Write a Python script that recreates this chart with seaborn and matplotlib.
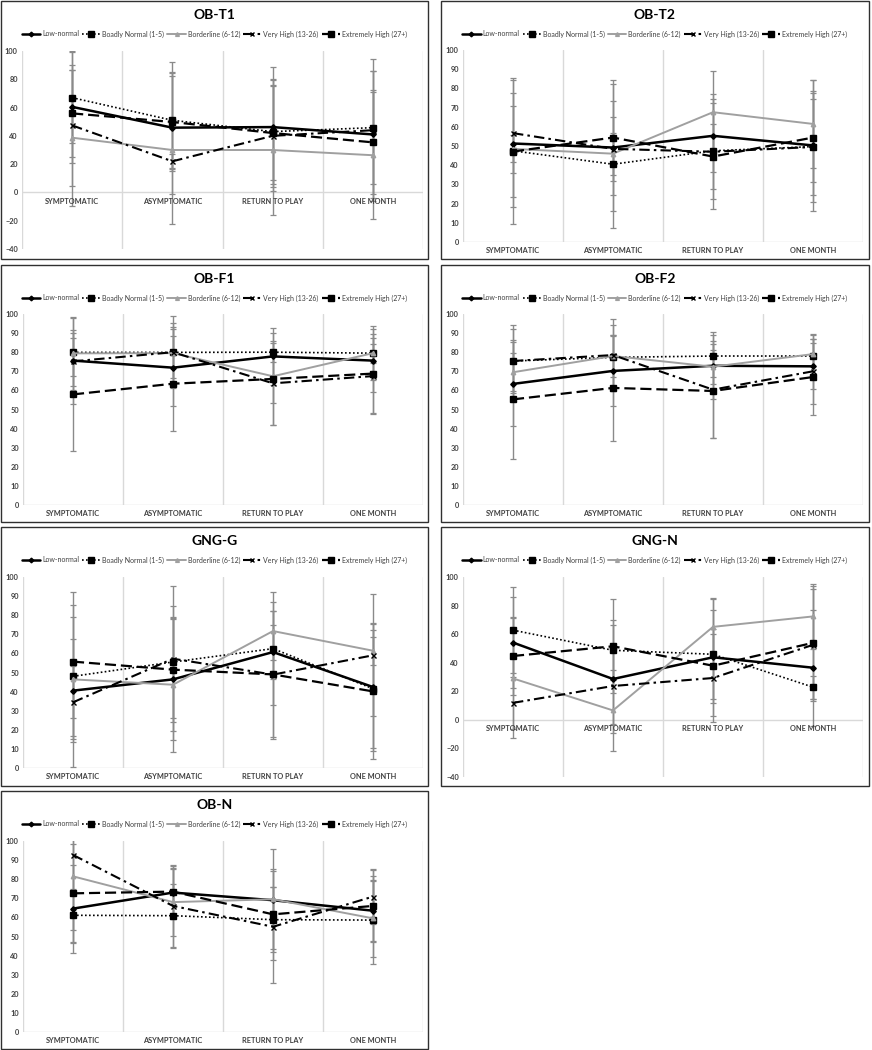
import numpy as np
import pandas as pd
import matplotlib
matplotlib.use("Agg")
import matplotlib.pyplot as plt
import seaborn as sns
from matplotlib.patches import Rectangle
from matplotlib.lines import Line2D

# ---------------- data ----------------
CATEGORIES = ["SYMPTOMATIC", "ASYMPTOMATIC", "RETURN TO PLAY", "ONE MONTH"]
SERIES = ["Low-normal", "Boadly Normal (1-5)", "Borderline (6-12)",
          "Very High (13-26)", "Extremely High (27+)"]
PANELS = ["OB-T1", "OB-T2", "OB-F1", "OB-F2", "GNG-G", "GNG-N", "OB-N"]

# means: one row per series (order as SERIES), one value per category
OBT1_MEAN = [[60.5, 45.8, 46.2, 41.0], [67.0, 51.0, 43.0, 45.8], [38.7, 30.0, 30.0, 26.3],
             [47.4, 22.0, 40.0, 44.0], [55.9, 49.8, 42.0, 35.4]]
OBT1_SD = [[39.5, 46.6, 42.5, 45.0], [32.0, 34.4, 37.0, 40.0], [48.0, 52.0, 45.7, 45.0],
           [42.6, 5.0, 39.3, 50.0], [31.0, 34.8, 33.4, 36.8]]

OBT2_MEAN = [[51.3, 49.2, 55.3, 50.3], [47.5, 40.5, 47.5, 49.7], [48.5, 46.0, 67.6, 61.5],
             [56.7, 48.5, 47.0, 49.5], [47.1, 54.4, 44.5, 54.4]]
OBT2_SD = [[33.0, 33.0, 19.0, 34.0], [38.0, 33.0, 25.0, 29.0], [7.0, 11.0, 21.7, 23.0],
           [21.0, 16.5, 30.0, 25.0], [23.5, 30.0, 17.0, 23.0]]

OBF1_MEAN = [[75.6, 71.9, 77.8, 75.6], [79.9, 79.9, 80.0, 79.5], [79.4, 79.5, 67.4, 79.5],
             [75.2, 80.0, 63.7, 67.5], [57.9, 63.5, 66.0, 68.8]]
OBF1_SD = [[22.8, 20.2, 15.0, 16.4], [17.8, 13.2, 5.0, 5.0], [12.0, 16.0, 14.0, 14.0],
           [15.0, 19.0, 22.0, 20.0], [29.5, 24.9, 24.0, 20.8]]

OBF2_MEAN = [[63.4, 70.2, 72.9, 72.6], [75.4, 77.3, 78.0, 78.0], [69.5, 78.0, 72.4, 79.0],
             [75.4, 78.5, 60.4, 70.0], [55.3, 61.3, 59.7, 67.0]]
OBF2_SD = [[22.0, 18.5, 17.6, 12.0], [18.8, 17.0, 11.0, 11.0], [10.0, 11.0, 9.0, 10.5],
           [16.7, 18.7, 25.5, 17.0], [31.0, 27.8, 24.6, 19.7]]

GNGG_MEAN = [[40.5, 46.4, 60.7, 42.4], [48.0, 55.5, 62.5, 41.5], [46.4, 43.6, 71.7, 61.4],
             [34.4, 57.2, 48.9, 59.0], [55.7, 51.5, 49.0, 40.1]]
GNGG_SD = [[27.0, 31.5, 14.0, 33.7], [31.3, 29.3, 29.6, 31.0], [45.7, 35.0, 15.0, 7.3],
           [19.0, 38.0, 33.5, 31.9], [29.5, 27.5, 33.0, 35.4]]

GNGN_MEAN = [[54.1, 28.6, 43.8, 36.5], [62.8, 48.7, 45.9, 22.9], [29.0, 6.6, 65.1, 72.4],
             [11.9, 23.7, 29.3, 52.5], [44.7, 51.5, 37.9, 53.9]]
GNGN_SD = [[31.8, 38.0, 41.0, 40.5], [30.0, 21.0, 31.0, 8.0], [42.0, 28.4, 20.0, 23.0],
           [18.2, 26.3, 30.5, 39.0], [27.0, 33.0, 26.0, 39.5]]

OBN_MEAN = [[64.6, 73.0, 69.0, 63.5], [61.1, 60.9, 58.8, 58.6], [81.5, 68.0, 69.5, 59.5],
            [92.7, 66.0, 55.1, 70.9], [72.6, 73.5, 61.6, 66.0]]
OBN_SD = [[23.0, 14.0, 7.0, 15.6], [14.0, 16.8, 17.0, 23.2], [28.0, 17.8, 26.3, 20.0],
          [20.0, 21.5, 29.2, 14.3], [26.0, 12.0, 24.0, 18.7]]

PANEL_DATA = {
    "OB-T1": (OBT1_MEAN, OBT1_SD), "OB-T2": (OBT2_MEAN, OBT2_SD),
    "OB-F1": (OBF1_MEAN, OBF1_SD), "OB-F2": (OBF2_MEAN, OBF2_SD),
    "GNG-G": (GNGG_MEAN, GNGG_SD), "GNG-N": (GNGN_MEAN, GNGN_SD),
    "OB-N": (OBN_MEAN, OBN_SD),
}

# ---------------- styling / layout ----------------
sns.set_style("white")
plt.rcParams["font.family"] = ["Lato", "DejaVu Sans"]

W, H = 872, 1050
fig = plt.figure(figsize=(W / 100, H / 100), dpi=100)

# panel box (x0, y0, x1, y1) and plot area (left, right, top, bottom) in pixels, y-range
LAYOUT = {
    "OB-T1": ((1, 1, 428, 259), (22, 423, 51, 249), (-40, 100, 20)),
    "OB-T2": ((441, 1, 869, 259), (463, 863, 50, 242), (0, 100, 10)),
    "OB-F1": ((1, 265, 428, 522), (23, 423, 314, 505), (0, 100, 10)),
    "OB-F2": ((441, 265, 869, 522), (463, 863, 314, 505), (0, 100, 10)),
    "GNG-G": ((1, 527, 428, 786), (23, 423, 577, 768), (0, 100, 10)),
    "GNG-N": ((441, 527, 869, 786), (463, 863, 577, 777), (-40, 100, 20)),
    "OB-N": ((1, 791, 428, 1049), (23, 423, 841, 1032), (0, 100, 10)),
}

STYLES = {
    SERIES[0]: dict(color="black", linewidth=1.8, linestyle="-", marker="D", markersize=2.8),
    SERIES[1]: dict(color="black", linewidth=1.2, linestyle=(0, (1, 1.4)), marker="s", markersize=4.4),
    SERIES[2]: dict(color="#a0a0a0", linewidth=1.4, linestyle="-", marker="^", markersize=3.2),
    SERIES[3]: dict(color="black", linewidth=1.5, linestyle=(0, (5, 2, 1.2, 2)), marker="x", markersize=3.6),
    SERIES[4]: dict(color="black", linewidth=1.6, linestyle=(0, (5, 2.2)), marker="s", markersize=4.4),
}

GRID = "#d9d9d9"
TXT = "#404040"
xpos = np.arange(len(CATEGORIES))

for name in PANELS:
    box, area, (ymin, ymax, ystep) = LAYOUT[name]
    x0, y0, x1, y1 = box
    fig.add_artist(Rectangle((x0 / W, 1 - y1 / H), (x1 - x0) / W, (y1 - y0) / H,
                             transform=fig.transFigure, fill=False,
                             edgecolor="#303030", linewidth=1.0))
    l, r, t, b = area
    ax = fig.add_axes([l / W, 1 - b / H, (r - l) / W, (b - t) / H])

    means, sds = PANEL_DATA[name]
    rows = []
    for s, m_row, sd_row in zip(SERIES, means, sds):
        for c, x, m, sd in zip(CATEGORIES, xpos, m_row, sd_row):
            rows.append(dict(series=s, category=c, pos=x, mean=m, sd=sd))
    df = pd.DataFrame(rows)

    # grid lines
    for edge in np.arange(-0.5, len(CATEGORIES)):
        ax.axvline(edge, color=GRID, linewidth=1.0, zorder=0)
    ax.axhline(0, color=GRID, linewidth=1.0, zorder=0)

    # error bars
    for s in SERIES:
        sub = df[df.series == s]
        ax.errorbar(sub["pos"], sub["mean"], yerr=sub["sd"], fmt="none",
                    ecolor="#8a8a8a", elinewidth=1.0, capsize=2.2, capthick=0.9,
                    zorder=2)

    # lines with markers
    for s in SERIES:
        sub = df[df.series == s]
        st = STYLES[s]
        sns.lineplot(data=sub, x="pos", y="mean", ax=ax, sort=False, legend=False,
                     errorbar=None, color=st["color"], linewidth=st["linewidth"],
                     linestyle=st["linestyle"], marker=st["marker"],
                     markersize=st["markersize"], markeredgecolor=st["color"],
                     markerfacecolor=st["color"], markeredgewidth=1.0, zorder=3)

    ax.set_xlim(-0.5, len(CATEGORIES) - 0.5)
    ax.set_ylim(ymin, ymax)
    ax.set_yticks(np.arange(ymin, ymax + 1, ystep))
    ax.set_xticks([])
    ax.set_xlabel("")
    ax.set_ylabel("")
    ax.tick_params(axis="y", length=0, pad=3, labelsize=5.3, labelcolor=TXT)
    for lab in ax.get_yticklabels():
        lab.set_fontweight("bold")
    for sp in ax.spines.values():
        sp.set_visible(False)
    ax.patch.set_alpha(0)

    for x, c in zip(xpos, CATEGORIES):
        ax.annotate(c, xy=(x, 0), xycoords="data", xytext=(0, -6.2),
                    textcoords="offset points", ha="center", va="center",
                    fontsize=5.3, fontweight="bold", color=TXT, annotation_clip=False)

    cx = (x0 + x1) / 2 / W
    fig.text(cx, 1 - (y0 + 14) / H, name, ha="center", va="center",
             fontsize=10, fontweight="bold", color="black")

    handles = [Line2D([], [], color=STYLES[s]["color"], linewidth=STYLES[s]["linewidth"],
                      linestyle=STYLES[s]["linestyle"], marker=STYLES[s]["marker"],
                      markersize=STYLES[s]["markersize"] * 0.85,
                      markeredgecolor=STYLES[s]["color"],
                      markerfacecolor=STYLES[s]["color"]) for s in SERIES]
    fig.legend(handles, SERIES, loc="center", bbox_to_anchor=(cx, 1 - (y0 + 33) / H),
               ncol=5, frameon=False, fontsize=5.0, handlelength=2.6,
               handletextpad=0.3, columnspacing=0.45, labelcolor=TXT,
               borderpad=0.1, borderaxespad=0)

fig.savefig("out.png", dpi=100)
